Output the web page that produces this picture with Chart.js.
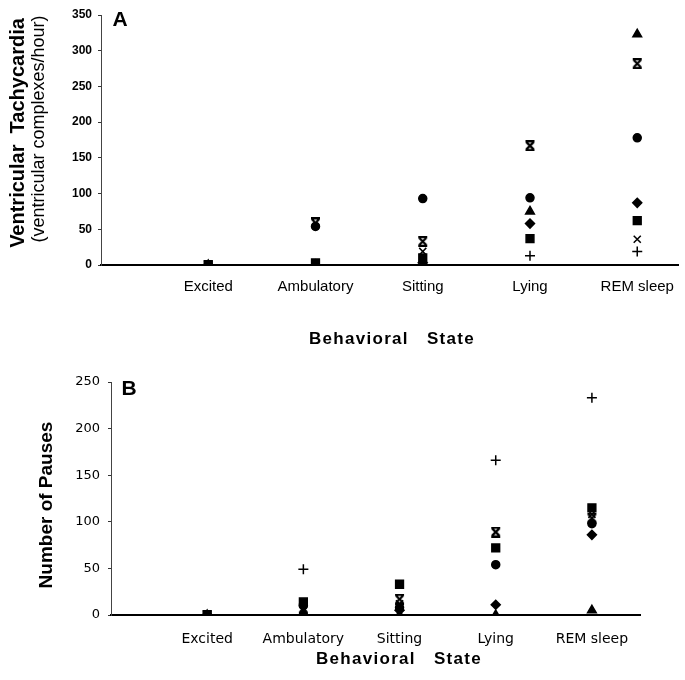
<!DOCTYPE html>
<html>
<head>
<meta charset="utf-8">
<script src="https://cdn.jsdelivr.net/npm/chart.js@4.4.1/dist/chart.umd.min.js"></script>
<style>
  html, body { margin: 0; padding: 0; background: #fff; }
  #wrapA { position: absolute; left: 0; top: 0; width: 685px; height: 350px; }
  #wrapB { position: absolute; left: 0; top: 350px; width: 685px; height: 330px; }
</style>
</head>
<body>
<div id="wrapA"><canvas id="chartA"></canvas></div>
<div id="wrapB"><canvas id="chartB"></canvas></div>
<script>
// categories on the x axis
var states = ["Excited", "Ambulatory", "Sitting", "Lying", "REM sleep"];

// Panel A - ventricular tachycardia (complexes/hour), one array per symbol
var vtPlus      = [0, 0, 0, 13, 19];
var vtCross     = [0, 0, 19, 167, 36];
var vtSquare    = [0, 3, 10, 37, 62];
var vtDiamond   = [0, 0, 3, 58, 87];
var vtTriangle  = [0, 0, 0, 75, 323];
var vtCircle    = [0, 54, 93, 94, 178];
var vtHourglass = [0, 59, 33, 167, 282];

// Panel B - number of pauses
var pPlus      = [0, 49, 0, 166, 233];
var pCross     = [0, 5, 12, 89, 108];
var pSquare    = [0, 14, 33, 72, 115];
var pDiamond   = [0, 0, 5, 11, 86];
var pTriangle  = [0, 0, 0, 0, 5];
var pCircle    = [0, 10, 8, 54, 98];
var pHourglass = [0, 7, 17, 89, 104];

// y tick values
var vtTicks = [0, 50, 100, 150, 200, 250, 300, 350];
var pTicks  = [0, 50, 100, 150, 200, 250];

Chart.defaults.font.family = "'Liberation Sans', Arial, sans-serif";
Chart.defaults.color = '#000';

// X with bars on top and bottom (the "asterisk" symbol of the original)
function makeHourglass() {
    var c = document.createElement('canvas');
    c.width = 11; c.height = 11;
    var g = c.getContext('2d');
    g.strokeStyle = '#000';
    g.lineWidth = 2.2;
    g.beginPath();
    g.moveTo(2, 2); g.lineTo(9, 9);
    g.moveTo(9, 2); g.lineTo(2, 9);
    g.moveTo(1, 1.2); g.lineTo(10, 1.2);
    g.moveTo(1, 9.8); g.lineTo(10, 9.8);
    g.stroke();
    return c;
}
var hourglass = makeHourglass();

function toPoints(arr) {
    return arr.map(function (v, i) { return { x: i + 1, y: v }; });
}

function makeDatasets(plus, cross, square, diamond, triangle, circle, hg) {
    var list = [
        { data: hg,       style: hourglass,  r: 5 },
        { data: circle,   style: 'circle',   r: 4 },
        { data: triangle, style: 'triangle', r: 5 },
        { data: diamond,  style: 'rectRot',  r: 4.5 },
        { data: square,   style: 'rect',     r: 5.5 },
        { data: cross,    style: 'crossRot', r: 5 },
        { data: plus,     style: 'cross',    r: 5 }
    ];
    return list.map(function (s) {
        return {
            data: toPoints(s.data),
            pointStyle: s.style,
            pointRadius: s.r,
            pointHoverRadius: s.r,
            backgroundColor: '#000',
            borderColor: '#000',
            borderWidth: 1.5
        };
    });
}

// draws the axis titles and panel letters
function textPlugin(items) {
    return {
        id: 'texts',
        afterDraw: function (chart) {
            var ctx = chart.ctx;
            items.forEach(function (t) {
                ctx.save();
                ctx.translate(t.x, t.y);
                if (t.rotate) ctx.rotate(-Math.PI / 2);
                ctx.font = t.font;
                ctx.fillStyle = '#000';
                ctx.textAlign = 'center';
                ctx.textBaseline = 'middle';
                if (t.spacing) ctx.letterSpacing = t.spacing;
                ctx.fillText(t.text, 0, 0);
                ctx.restore();
            });
        }
    };
}

function makeChart(id, opts) {
    return new Chart(document.getElementById(id), {
        type: 'scatter',
        data: { datasets: opts.datasets },
        options: {
            responsive: true,
            maintainAspectRatio: false,
            animation: false,
            layout: { padding: opts.padding },
            plugins: { legend: { display: false }, tooltip: { enabled: false } },
            scales: {
                x: {
                    type: 'linear',
                    min: 0,
                    max: opts.xMax,
                    afterBuildTicks: function (axis) {
                        axis.ticks = states.map(function (s, i) { return { value: i + 1 }; });
                    },
                    afterFit: function (axis) { axis.height = opts.xHeight; },
                    ticks: {
                        autoSkip: false,
                        maxRotation: 0,
                        padding: opts.xTickPad,
                        font: opts.xTickFont,
                        callback: function (v) { return states[v - 1] || ''; }
                    },
                    grid: { display: false },
                    border: { display: true, color: '#000', width: 2 }
                },
                y: {
                    min: 0,
                    max: opts.yTicks[opts.yTicks.length - 1],
                    afterBuildTicks: function (axis) {
                        axis.ticks = opts.yTicks.map(function (v) { return { value: v }; });
                    },
                    afterFit: function (axis) { axis.width = opts.yWidth; },
                    ticks: { padding: opts.yTickPad, font: opts.yTickFont },
                    grid: { drawOnChartArea: false, tickLength: 3, color: '#333' },
                    border: { display: true, color: '#444', width: 1 }
                }
            }
        },
        plugins: [textPlugin(opts.texts)]
    });
}

makeChart('chartA', {
    datasets: makeDatasets(vtPlus, vtCross, vtSquare, vtDiamond, vtTriangle, vtCircle, vtHourglass),
    padding: { top: 15, right: 5, left: 0, bottom: 0 },
    xMax: 5.38,
    xHeight: 85,
    xTickPad: 5,
    xTickFont: { size: 15 },
    yTicks: vtTicks,
    yWidth: 101,
    yTickPad: 6,
    yTickFont: { size: 12, weight: 'bold' },
    texts: [
        { text: 'Ventricular  Tachycardia', x: 18, y: 133, rotate: true, font: "bold 20px 'Liberation Sans', Arial, sans-serif" },
        { text: '(ventricular complexes/hour)', x: 39, y: 129, rotate: true, font: "18px 'Liberation Sans', Arial, sans-serif" },
        { text: 'A', x: 120, y: 20, font: "bold 21px 'Liberation Sans', Arial, sans-serif" },
        { text: 'Behavioral   State', x: 392, y: 339, spacing: '1.3px', font: "bold 17px 'Liberation Sans', Arial, sans-serif" }
    ]
});

makeChart('chartB', {
    datasets: makeDatasets(pPlus, pCross, pSquare, pDiamond, pTriangle, pCircle, pHourglass),
    padding: { top: 32, right: 45, left: 0, bottom: 0 },
    xMax: 5.5,
    xHeight: 65,
    xTickPad: 8,
    xTickFont: { size: 14, family: "'DejaVu Sans', sans-serif" },
    yTicks: pTicks,
    yWidth: 111,
    yTickPad: 8,
    yTickFont: { size: 13, family: "'DejaVu Sans', sans-serif" },
    texts: [
        { text: 'Number of Pauses', x: 47, y: 155, rotate: true, font: "bold 19px 'Liberation Sans', Arial, sans-serif" },
        { text: 'B', x: 129, y: 39, font: "bold 21px 'Liberation Sans', Arial, sans-serif" },
        { text: 'Behavioral   State', x: 399, y: 309, spacing: '1.3px', font: "bold 17px 'Liberation Sans', Arial, sans-serif" }
    ]
});
</script>
</body>
</html>
